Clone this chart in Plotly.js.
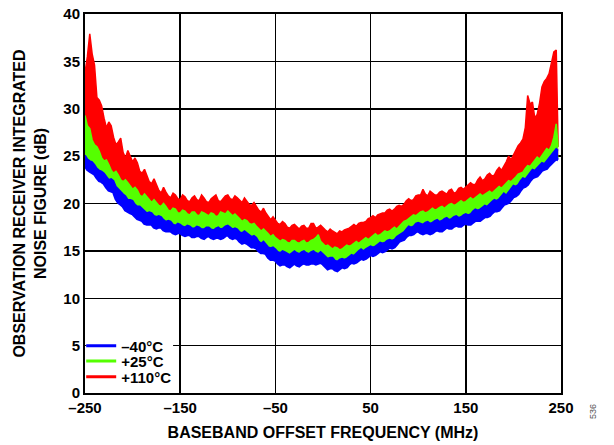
<!DOCTYPE html>
<html>
<head>
<meta charset="utf-8">
<script src="https://cdn.plot.ly/plotly-3.0.1.min.js"></script>
<style>html,body{margin:0;padding:0;background:#fff;}#chart{width:614px;height:445px;}</style>
</head>
<body>
<div id="chart"></div>
<script>
// Sampling grid (MHz); half-step samples are listed in the *Mid arrays
const freq = [
  -250,-245,-240,-235,-230,-225,-220,-215,-210,-205,
  -200,-195,-190,-185,-180,-175,-170,-165,-160,-155,
  -150,-145,-140,-135,-130,-125,-120,-115,-110,-105,
  -100,-95,-90,-85,-80,-75,-70,-65,-60,-55,
  -50,-45,-40,-35,-30,-25,-20,-15,-10,-5,
  0,5,10,15,20,25,30,35,40,45,
  50,55,60,65,70,75,80,85,90,95,
  100,105,110,115,120,125,130,135,140,145,
  150,155,160,165,170,175,180,185,190,195,
  200,205,210,215,220,225,230,235,240,245,
  247
];
const freqCoarse = [-250,-225,-200,-175,-150,-125,-100,-75,-50,-25,0,25,50,75,100,125,150,175,200,225,247];

// +110°C noise figure, upper edge (dB)
const hotHi = [
  33.8,37.9,34.6,30.9,29.0,28.6,27.0,26.5,25.4,25.6,
  24.4,24.3,23.2,23.0,22.1,22.0,21.1,21.2,20.6,20.9,
  20.4,20.7,20.2,20.8,20.3,20.6,20.1,20.7,20.3,20.5,
  20.9,20.4,20.6,20.1,20.3,19.8,19.7,19.1,19.0,18.3,
  18.2,17.8,17.9,17.4,17.8,17.3,17.7,17.4,17.9,17.5,
  17.4,17.0,17.1,16.8,17.0,17.3,17.6,17.6,18.0,18.1,
  18.5,18.5,18.9,19.0,19.4,19.4,19.8,19.9,20.5,20.4,
  20.9,21.5,20.8,21.1,20.9,21.3,21.0,21.5,21.2,21.7,
  21.7,22.2,22.0,22.8,22.6,23.2,23.0,23.8,23.9,25.0,
  25.1,26.1,26.8,31.4,30.7,29.4,32.3,33.2,35.0,36.2,
  26.0
];
const hotHiMid = [
  35.5,35.8,31.2,30.3,28.0,28.2,26.2,26.9,24.8,24.9,
  24.8,23.4,23.6,22.3,22.6,21.4,21.7,20.8,21.1,20.5,
  20.9,20.3,20.6,20.4,20.9,20.2,20.5,20.9,20.2,20.8,
  20.5,20.8,20.3,20.6,19.9,20.1,19.3,19.5,18.6,18.6,
  17.9,18.1,17.5,17.7,17.5,17.6,17.4,17.9,17.4,17.7,
  17.2,17.3,16.9,17.1,17.2,17.4,17.8,17.9,18.0,18.4,
  18.7,18.8,19.0,19.3,19.2,19.7,19.7,20.3,20.3,20.8,
  20.9,21.0,21.3,20.9,21.2,21.1,21.4,21.1,21.6,21.5,
  21.9,22.0,22.5,22.4,23.0,22.9,23.5,23.5,24.4,24.6,
  25.7,26.4,28.0,30.5,29.0,30.6,32.9,33.7,36.0
];
const hotLo = [28.0,23.4,21.0,19.5,18.6,18.4,18.6,17.4,15.9,15.5,15.4,15.0,16.0,17.0,18.6,19.2,19.9,20.8,22.2,24.4,25.2];

// +25°C noise figure
const roomHi = [
  29.3,27.9,26.2,25.5,24.5,24.1,23.2,23.0,22.3,22.2,
  21.5,21.4,20.7,20.7,20.1,20.1,19.7,19.7,19.2,19.4,
  19.0,19.2,18.8,19.1,18.7,19.0,18.7,18.9,18.7,19.0,
  19.2,18.7,18.7,18.1,18.2,17.8,17.6,17.1,17.1,16.5,
  16.4,16.0,16.1,15.8,16.1,15.8,16.1,15.9,16.2,16.7,
  15.7,15.6,15.2,15.3,15.2,15.6,15.6,16.0,16.0,16.4,
  16.4,16.8,16.7,17.1,17.1,17.5,17.6,18.1,18.4,18.8,
  18.9,19.2,19.1,19.5,19.4,19.7,19.7,20.0,19.9,20.3,
  20.2,20.6,20.6,21.0,21.0,21.3,21.3,21.8,21.9,22.4,
  22.5,23.1,23.3,24.0,24.2,24.9,25.1,25.8,26.1,28.4,
  26.0
];
const roomHiMid = [
  28.2,26.7,26.0,24.8,24.6,23.5,23.4,22.5,22.5,21.8,
  21.7,20.9,21.0,20.3,20.4,19.8,20.0,19.3,19.5,19.0,
  19.3,18.9,19.1,18.8,19.1,18.8,19.0,18.6,19.1,18.9,
  18.9,18.9,18.4,18.3,17.9,17.9,17.3,17.3,16.8,16.7,
  16.2,16.2,15.9,16.1,15.9,16.0,15.8,16.1,16.4,16.0,
  15.5,15.4,15.4,15.1,15.4,15.5,15.8,15.8,16.2,16.2,
  16.6,16.6,16.9,17.0,17.3,17.3,17.9,18.2,18.6,18.7,
  19.1,19.0,19.3,19.3,19.6,19.5,19.9,19.8,20.1,20.1,
  20.4,20.4,20.8,20.8,21.2,21.1,21.6,21.6,22.2,22.3,
  22.8,23.2,23.7,23.9,24.6,24.7,25.5,25.6,27.0
];
const roomLo = [24.6,22.2,19.9,18.3,17.4,17.1,17.3,16.3,14.8,14.5,14.3,14.0,15.1,16.0,17.6,18.0,18.5,19.6,21.5,23.5,25.0];

// −40°C noise figure
const coldHi = [
  25.1,24.5,24.1,23.5,23.2,22.5,22.4,21.5,21.0,20.4,
  20.3,19.7,19.5,19.0,19.0,18.6,18.6,18.1,18.1,17.7,
  17.8,17.5,17.6,17.4,17.5,17.3,17.5,17.2,17.5,17.4,
  17.7,17.3,17.3,16.9,16.9,16.5,16.4,15.8,15.7,15.3,
  15.2,14.8,14.9,14.6,15.0,14.7,15.0,14.7,15.0,14.7,
  14.7,14.2,14.3,13.9,14.2,14.2,14.6,14.7,15.2,15.2,
  15.5,15.5,15.9,15.9,16.2,16.2,16.7,17.0,17.6,17.6,
  18.0,17.8,18.1,18.0,18.3,18.2,18.5,18.4,18.7,18.6,
  18.9,18.9,19.4,19.4,19.8,19.9,20.4,20.5,21.1,21.2,
  21.9,22.0,22.7,22.9,23.6,23.8,24.3,24.5,25.1,25.8,
  25.6
];
const coldHiMid = [
  24.7,24.4,23.7,23.4,22.8,22.6,21.8,21.3,20.8,20.4,
  19.9,19.7,19.2,19.1,18.7,18.7,18.3,18.2,17.8,17.9,
  17.6,17.7,17.4,17.6,17.3,17.5,17.3,17.4,17.3,17.6,
  17.5,17.4,17.0,17.1,16.7,16.6,16.0,16.0,15.4,15.4,
  14.9,15.0,14.7,14.8,14.8,14.9,14.8,14.9,14.8,14.9,
  14.4,14.3,14.0,14.1,14.1,14.4,14.5,15.0,15.0,15.4,
  15.4,15.7,15.8,16.1,16.1,16.5,16.8,17.3,17.5,17.9,
  17.9,18.0,17.9,18.2,18.1,18.4,18.3,18.6,18.5,18.8,
  18.8,19.2,19.3,19.6,19.7,20.2,20.3,20.8,20.9,21.6,
  21.8,22.4,22.6,23.3,23.5,24.1,24.2,24.8,25.4
];
const coldLo = [
  24.0,23.4,23.1,22.4,22.1,21.4,21.2,20.1,19.7,19.1,
  18.9,18.4,18.2,17.8,17.8,17.4,17.5,17.1,17.1,16.8,
  16.9,16.6,16.7,16.5,16.6,16.3,16.6,16.3,16.4,16.4,
  16.7,16.3,16.3,15.8,15.8,15.4,15.3,14.8,14.7,14.1,
  14.0,13.5,13.6,13.3,13.7,13.4,13.7,13.6,13.7,13.7,
  13.6,13.1,13.2,12.9,13.3,13.3,13.8,13.8,14.2,14.2,
  14.6,14.6,15.0,15.0,15.4,15.4,16.0,16.2,16.7,16.8,
  17.1,16.8,16.9,16.9,17.2,17.1,17.5,17.4,17.7,17.6,
  17.9,17.8,18.2,18.2,18.6,18.7,19.2,19.3,19.9,20.1,
  20.7,21.0,21.7,22.0,22.7,22.9,23.5,23.7,24.3,24.7,
  24.6
];
const coldLoMid = [
  23.6,23.2,22.7,22.3,21.7,21.3,20.5,19.9,19.3,19.0,
  18.6,18.3,17.9,17.8,17.5,17.5,17.2,17.1,16.9,16.9,
  16.7,16.7,16.5,16.6,16.4,16.5,16.4,16.4,16.3,16.6,
  16.4,16.4,16.0,15.9,15.6,15.4,15.0,14.8,14.3,14.1,
  13.7,13.6,13.4,13.5,13.5,13.6,13.6,13.7,13.6,13.8,
  13.3,13.2,13.0,13.1,13.2,13.6,13.7,14.0,14.1,14.4,
  14.5,14.8,14.9,15.2,15.3,15.7,16.1,16.5,16.7,17.0,
  16.9,16.9,16.8,17.1,17.1,17.3,17.4,17.6,17.6,17.8,
  17.8,18.0,18.2,18.4,18.6,19.0,19.2,19.6,20.0,20.4,
  20.8,21.4,21.8,22.4,22.8,23.2,23.6,24.0,24.5
];

const seriesNames = ['+110°C', '+25°C', '\u201340°C'];
const seriesColors = ['#ff0000', '#55ff00', '#0000ff'];
const xTickVals = [-250,-150,-50,50,150,250];
const xTickText = ['\u2013250','\u2013150','\u201350','50','150','250'];
const yTickVals = [0,5,10,15,20,25,30,35,40];

// merge the 5 MHz samples with the half-step samples
function merge(main, mid) {
  const xs = [], ys = [];
  for (let i = 0; i < freq.length; i++) {
    xs.push(freq[i]); ys.push(main[i]);
    if (i < mid.length) { xs.push((freq[i] + freq[i + 1]) / 2); ys.push(mid[i]); }
  }
  return {x: xs, y: ys};
}

const hotTop = merge(hotHi, hotHiMid);
const roomTop = merge(roomHi, roomHiMid);
const coldTop = merge(coldHi, coldHiMid);
const coldBot = merge(coldLo, coldLoMid);

const bands = [
  {lx: freqCoarse, lo: hotLo, top: hotTop, legend: 'legend3'},
  {lx: freqCoarse, lo: roomLo, top: roomTop, legend: 'legend2'},
  {lx: coldBot.x, lo: coldBot.y, top: coldTop, legend: 'legend'}
];

const traces = [];
bands.forEach((b, i) => {
  traces.push({
    type: 'scatter', mode: 'lines', x: b.lx, y: b.lo,
    name: seriesNames[i], legend: b.legend,
    line: {color: seriesColors[i], width: 3},
    hoverinfo: 'skip'
  });
  traces.push({
    type: 'scatter', mode: 'lines', x: b.top.x, y: b.top.y,
    fill: 'tonexty', fillcolor: seriesColors[i],
    showlegend: false,
    line: {color: seriesColors[i], width: 1.5},
    hoverinfo: 'skip'
  });
});

const FONT = 'Arial, "Liberation Sans", sans-serif';
const legFont = {family: FONT, size: 15, color: '#000', weight: 'bold'};
function leg(y) {
  return {x: -0.008, y: y, xanchor: 'left', yanchor: 'middle',
          bgcolor: 'rgba(0,0,0,0)', borderwidth: 0, font: legFont,
          itemwidth: 30, traceorder: 'normal'};
}
const layout = {
  width: 614, height: 445,
  margin: {l: 85, r: 53, t: 14, b: 52},
  paper_bgcolor: '#fff', plot_bgcolor: '#fff',
  font: {family: FONT, size: 15, color: '#000', weight: 'bold'},
  showlegend: true,
  legend: leg(0.124),
  legend2: leg(0.084),
  legend3: leg(0.042),
  xaxis: {
    range: [-250, 250], tickmode: 'array', tickvals: xTickVals, ticktext: xTickText,
    showgrid: true, gridcolor: '#000', gridwidth: 1.5,
    showline: true, linecolor: '#000', linewidth: 2, mirror: true,
    zeroline: false, ticks: '',
    tickfont: {family: FONT, size: 15, color: '#000', weight: 'bold'},
    title: {text: 'BASEBAND OFFSET FREQUENCY (MHz)', standoff: 12,
            font: {family: FONT, size: 16, color: '#000', weight: 'bold'}}
  },
  yaxis: {
    range: [0, 40], tickmode: 'array', tickvals: yTickVals,
    showgrid: true, gridcolor: '#000', gridwidth: 1.5,
    showline: true, linecolor: '#000', linewidth: 2, mirror: true,
    zeroline: false, ticks: '',
    tickfont: {family: FONT, size: 15, color: '#000', weight: 'bold'},
    title: {text: 'OBSERVATION RECEIVER INTEGRATED<br>NOISE FIGURE (dB)', standoff: 13,
            font: {family: FONT, size: 16, color: '#000', weight: 'bold'}}
  },
  shapes: [{
    type: 'rect', xref: 'paper', yref: 'paper', layer: 'above',
    x0: 0.003, x1: 0.185, y0: 0.004, y1: 0.148,
    fillcolor: '#fff', line: {width: 0}
  }],
  annotations: [{
    xref: 'paper', yref: 'paper', x: 1.082, y: -0.075,
    text: '536', showarrow: false, textangle: -90,
    font: {family: FONT, size: 9, color: '#555', weight: 'normal'}
  }]
};

Plotly.newPlot('chart', traces, layout, {staticPlot: true, displayModeBar: false});
</script>
</body>
</html>
